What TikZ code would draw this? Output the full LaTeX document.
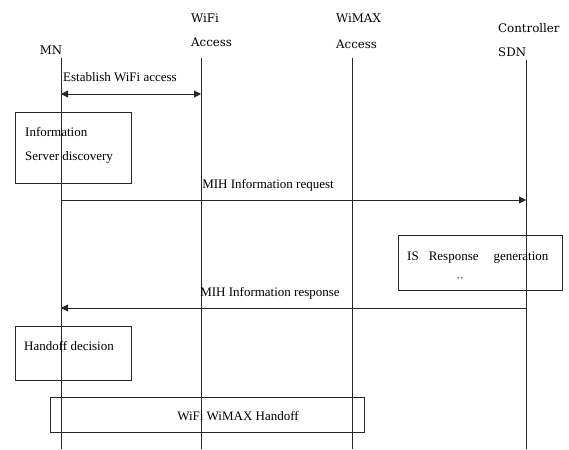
\documentclass[tikz,border=0pt]{standalone}
\usepackage{fontspec}
\setmainfont{Liberation Serif}
\newfontfamily\hdrfont{DejaVu Serif}
\usetikzlibrary{arrows.meta}
\begin{document}
\begin{tikzpicture}[x=1pt,y=-1pt,
  life/.style={draw=black!85,line width=0.8pt},
  msg/.style={draw=black!85,line width=0.8pt,-{Triangle[length=7pt,width=7pt]}},
  dmsg/.style={draw=black!85,line width=0.8pt,{Triangle[length=7pt,width=7pt]}-{Triangle[length=7pt,width=7pt]}},
  boxr/.style={draw=black!85,line width=0.9pt},
  lbl/.style={font=\fontsize{13}{15}\selectfont,inner sep=0pt},
  hdr/.style={font=\hdrfont\fontsize{11.8}{13}\selectfont,inner sep=0pt}]
\useasboundingbox (0,0) rectangle (569,449);
% headers
\node[hdr] (mnl) at (51,50) {MN};
\node[hdr,anchor=west] (wifil1) at (191,18) {WiFi};
\node[hdr,anchor=west] (wifil2) at (191,42) {Access};
\node[hdr,anchor=west] (wimaxl1) at (336,18) {WiMAX};
\node[hdr,anchor=west] (wimaxl2) at (336,44) {Access};
\node[hdr,anchor=west] (ctrll1) at (498,28) {Controller};
\node[hdr,anchor=west] (ctrll2) at (498,52) {SDN};
% lifelines
\coordinate (mnT) at (61,58); \coordinate (mnB) at (61,449);
\coordinate (wfT) at (201,58); \coordinate (wfB) at (201,449);
\coordinate (wmT) at (352,58); \coordinate (wmB) at (352,449);
\coordinate (scT) at (526,60); \coordinate (scB) at (526,449);
\draw[life] (mnT) -- (mnB);
\draw[life] (wfT) -- (wfB);
\draw[life] (wmT) -- (wmB);
\draw[life] (scT) -- (scB);
% establish
\coordinate (e1) at (61,94); \coordinate (e2) at (201,94);
\draw[dmsg] (e1) -- (e2);
\node[lbl,anchor=west] (estl) at (63,77) {Establish WiFi access};
% IS discovery box
\draw[boxr] (15,112) rectangle (131,183);
\node[lbl,anchor=west] (isd1) at (25,132) {Information};
\node[lbl,anchor=west] (isd2) at (25,157) {Server discovery};
% request
\coordinate (r1) at (61,200); \coordinate (r2) at (526,200);
\draw[msg] (r1) -- (r2);
\node[lbl] (reql) at (268,185) {MIH Information request};
% IS response generation
\draw[boxr] (398,235) rectangle (562,290);
\node[lbl,anchor=west] (isr) at (407,258) {IS\hspace{10pt}Response\hspace{15pt}generation};
\node[font=\fontsize{9}{10}\selectfont,inner sep=0pt] (dots) at (460,279) {,\,,};
% response
\coordinate (s1) at (526,308); \coordinate (s2) at (61,308);
\draw[msg] (s1) -- (s2);
\node[lbl] (resl) at (270,293) {MIH Information response};
% handoff decision
\draw[boxr] (15,326) rectangle (131,380);
\node[lbl,anchor=west] (hd) at (24,346) {Handoff decision};
% handoff
\draw[boxr] (50,397) rectangle (364,432);
\node[lbl] (ho) at (238,416) {WiFi WiMAX Handoff};
\end{tikzpicture}
\end{document}
